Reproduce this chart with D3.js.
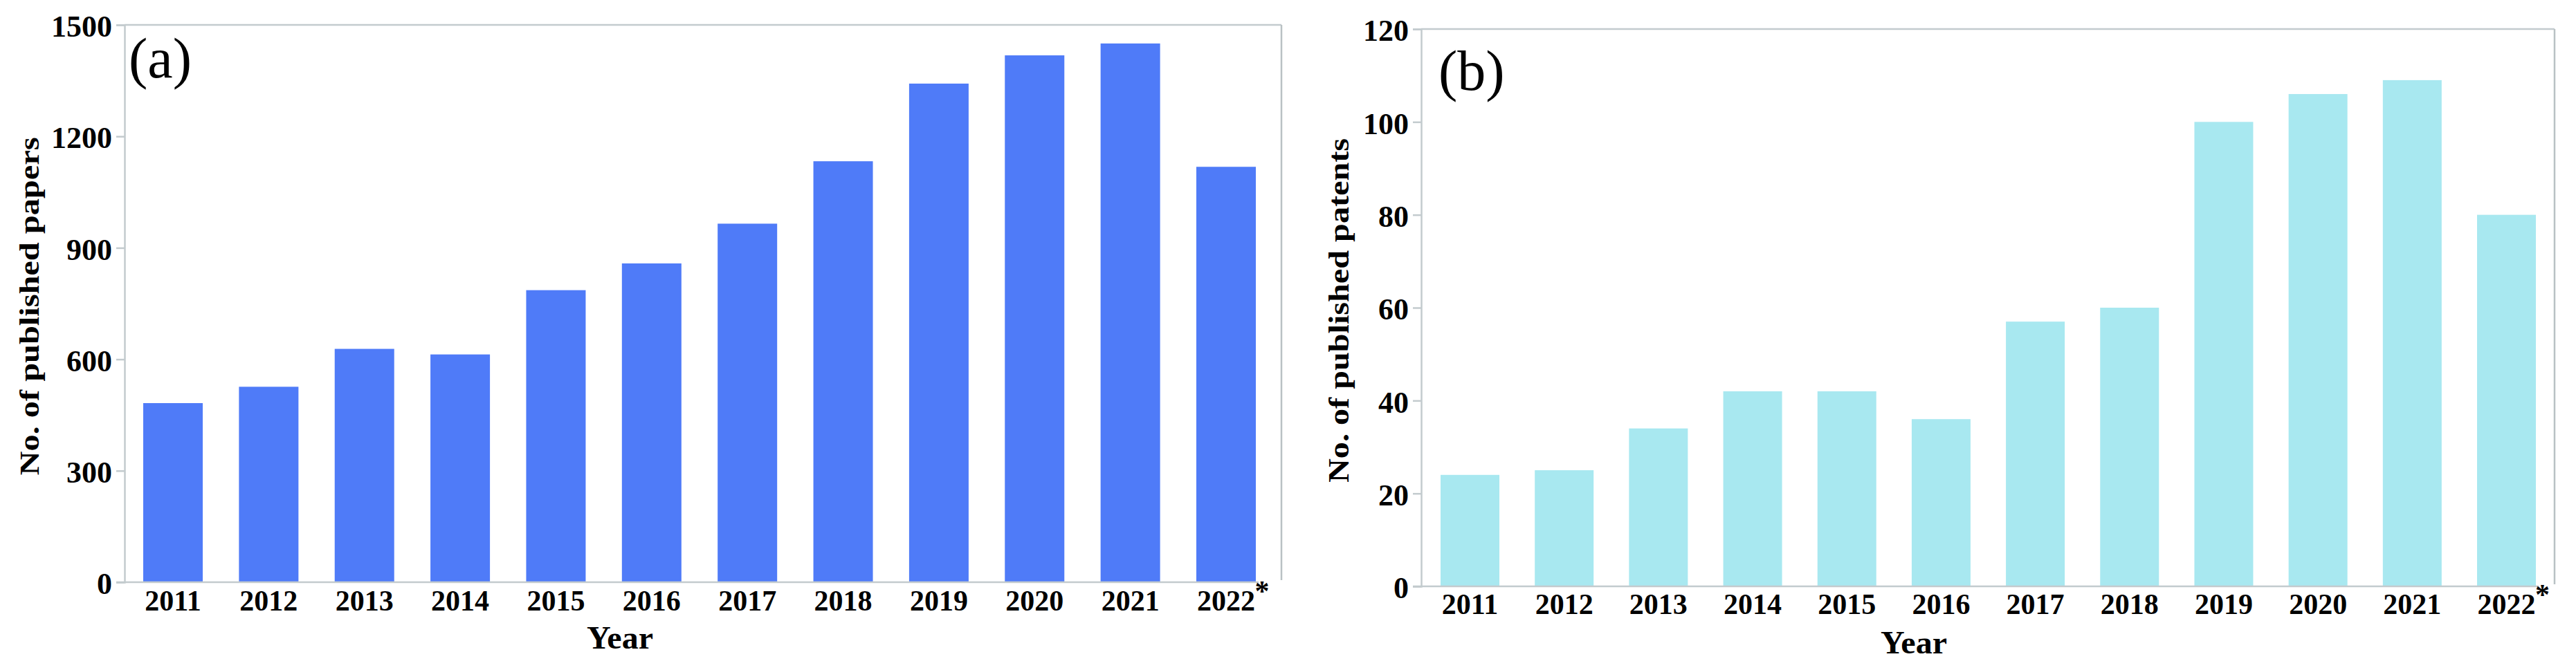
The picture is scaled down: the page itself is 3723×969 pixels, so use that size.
<!DOCTYPE html>
<html>
<head>
<meta charset="utf-8">
<script src="https://cdn.jsdelivr.net/npm/d3@7"></script>
<style>
  html, body { margin: 0; padding: 0; background: #ffffff; }
  svg { display: block; }
  text { font-family: "Liberation Serif", "Times New Roman", serif; fill: #000; }
</style>
</head>
<body>
<svg id="chart" width="3723" height="969"></svg>
<script>
// ---- data ----
const years = ["2011","2012","2013","2014","2015","2016","2017","2018","2019","2020","2021","2022"];
const papers = [482, 526, 628, 613, 786, 858, 965, 1133, 1342, 1418, 1450, 1118];
const patents = [24, 25, 34, 42, 42, 36, 57, 60, 100, 106, 109, 80];
const paperTicks = [0, 300, 600, 900, 1200, 1500];
const patentTicks = [0, 20, 40, 60, 80, 100, 120];
const starredYear = "2022";

const svg = d3.select("#chart");
const axisColor = "#c3cbce";

function panel(opts) {
  const g = svg.append("g");
  const { left, right, top, bottom, barsL, barsR, values, ticks, maxV, color,
          yTitle, yTitleX, yTitleLen, yTitleSize, tag, tagX, tagY, yearX, yearY, xPad } = opts;

  const nb = years.length;
  const bw = opts.bw;
  const step = (barsR - barsL - bw) / (nb - 1);
  const pi = 1 - bw / step;
  const x = d3.scaleBand().domain(years).range([barsL, barsL + step * nb - step * pi]).paddingInner(pi).paddingOuter(0);
  const y = d3.scaleLinear().domain([0, maxV]).range([bottom, top]);

  // frame top & right
  g.append("line").attr("x1", left).attr("x2", right).attr("y1", top).attr("y2", top)
    .attr("stroke", axisColor).attr("stroke-width", 2.5);
  g.append("line").attr("x1", right).attr("x2", right).attr("y1", top).attr("y2", bottom - 3)
    .attr("stroke", "#b9c1c4").attr("stroke-width", 2.5);

  // bars
  g.selectAll("rect.bar").data(years).enter().append("rect")
    .attr("class", "bar")
    .attr("x", d => x(d))
    .attr("width", x.bandwidth())
    .attr("y", (d, i) => y(values[i]))
    .attr("height", (d, i) => bottom - y(values[i]))
    .attr("fill", color);

  // y axis
  const ya = g.append("g").attr("transform", `translate(${left},0)`)
    .call(d3.axisLeft(y).tickValues(ticks).tickSize(12).tickPadding(6).tickFormat(d3.format("d")));
  ya.select(".domain").attr("stroke", axisColor).attr("stroke-width", 2.5);
  ya.selectAll(".tick line").attr("stroke", axisColor).attr("stroke-width", 2.5);
  ya.selectAll(".tick text").attr("font-size", 44).attr("font-weight", "bold")
    .attr("font-family", "Liberation Serif").attr("dy", "0.38em");

  // x axis
  const xa = g.append("g").attr("transform", `translate(0,${bottom})`)
    .call(d3.axisBottom(x).tickSize(0).tickPadding(xPad));
  xa.select(".domain").attr("stroke", axisColor).attr("stroke-width", 2.5)
    .attr("d", `M${left - 12},0H${barsR + 4}`);
  xa.selectAll(".tick text").attr("font-size", 42).attr("font-weight", "bold")
    .attr("font-family", "Liberation Serif");

  // asterisk after starred year
  xa.selectAll(".tick").filter(d => d === starredYear).each(function() {
    const t = d3.select(this).select("text");
    const w = t.node().getComputedTextLength();
    d3.select(this).append("text")
      .attr("x", w / 2 + 10)
      .attr("y", xPad)
      .attr("dy", "0.38em")
      .attr("font-size", 42).attr("font-weight", "bold")
      .attr("font-family", "Liberation Serif")
      .attr("fill", "#000")
      .text("*");
  });

  // y title
  g.append("text")
    .attr("transform", `translate(${yTitleX},${(top + bottom) / 2 + 4}) rotate(-90)`)
    .attr("text-anchor", "middle")
    .attr("font-size", yTitleSize).attr("font-weight", "bold")
    .attr("textLength", yTitleLen).attr("lengthAdjust", "spacingAndGlyphs")
    .text(yTitle);

  // x title
  g.append("text").attr("x", yearX).attr("y", yearY)
    .attr("text-anchor", "middle").attr("font-size", 47).attr("font-weight", "bold")
    .attr("textLength", 96).attr("lengthAdjust", "spacingAndGlyphs")
    .text("Year");

  // panel tag
  g.append("text").attr("x", tagX).attr("y", tagY)
    .attr("font-size", 82).attr("font-weight", "normal")
    .text(tag);
}

panel({
  left: 180, right: 1852, top: 36, bottom: 842,
  barsL: 207, barsR: 1815, bw: 86,
  values: papers, ticks: paperTicks, maxV: 1500, color: "#4f7bf8",
  yTitle: "No. of published papers", yTitleX: 56, yTitleLen: 489, yTitleSize: 40,
  tag: "(a)", tagX: 186, tagY: 112, yearX: 896, yearY: 938, xPad: 11
});

panel({
  left: 2054, right: 3692, top: 42, bottom: 848,
  barsL: 2082, barsR: 3665, bw: 85,
  values: patents, ticks: patentTicks, maxV: 120, color: "#a8e8f0",
  yTitle: "No. of published patents", yTitleX: 1949, yTitleLen: 498, yTitleSize: 42,
  tag: "(b)", tagX: 2079, tagY: 130, yearX: 2766, yearY: 945, xPad: 10
});
</script>
</body>
</html>
